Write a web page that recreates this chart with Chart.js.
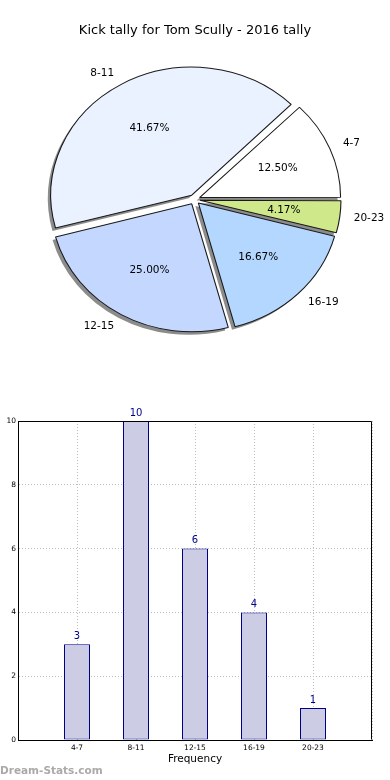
<!DOCTYPE html>
<html><head><meta charset="utf-8">
<script src="https://cdn.jsdelivr.net/npm/chart.js@4.4.1/dist/chart.umd.min.js"></script>
<style>
html,body{margin:0;padding:0;background:#fff;}
body{width:390px;height:780px;position:relative;overflow:hidden;font-family:"DejaVu Sans",sans-serif;}
#title{position:absolute;left:0;top:21px;width:390px;text-align:center;font-size:13px;color:#000;line-height:18px;z-index:2;}
#pieC{position:absolute;left:0;top:0;}
#barC{position:absolute;left:0;top:400px;}
#wm{position:absolute;left:0;top:763px;font:bold 10.5px "DejaVu Sans",sans-serif;color:#aaaaaa;line-height:14px;}
</style></head>
<body>
<div id="title">Kick tally for Tom Scully - 2016 tally</div>
<canvas id="pieC" width="389" height="399"></canvas>
<canvas id="barC" width="390" height="380"></canvas>
<div id="wm">Dream-Stats.com</div>
<script>
// ---- data ----
const categories = ['4-7', '8-11', '12-15', '16-19', '20-23'];
const counts = [3, 10, 6, 4, 1];
const pieColors = ['#ffffff', '#eaf1ff', '#c4d8ff', '#b3d7ff', '#cfe98a'];
const yTicks = [0, 2, 4, 6, 8, 10];

// ---- pie (clockwise from east in canvas => reverse matplotlib ccw order) ----
const pieLabels = categories.slice().reverse();
const pieValues = counts.slice().reverse();
const pieCols = pieColors.slice().reverse();
const total = counts.reduce((a, b) => a + b, 0);

const R = 128, SX = 141 / 128, OFFSET = 20, OFF_PX = OFFSET / 4;

const pieFx = {
  id: 'pieFx',
  beforeDatasetsDraw(chart) {
    const ctx = chart.ctx, meta = chart.getDatasetMeta(0);
    const cx = meta.data[0].x, cy = meta.data[0].y;
    ctx.save();
    ctx.translate(cx, cy); ctx.scale(SX, 1); ctx.translate(-cx, -cy);
    meta.data.forEach(el => {
      const circ = el.endAngle - el.startAngle;
      const fix = 1 - Math.sin(Math.min(Math.PI, circ));
      el.outerRadius = R - OFF_PX * fix;
    });
    meta.data.forEach(el => {
      const o = el.options;
      el.options = Object.assign({}, o, {backgroundColor: 'rgba(0,0,0,0.45)', borderColor: 'rgba(0,0,0,0)', borderWidth: 0});
      ctx.save(); ctx.translate(-3 / SX, 3); el.draw(ctx); ctx.restore();
      el.options = o;
    });
  },
  afterDatasetsDraw(chart) {
    const ctx = chart.ctx, meta = chart.getDatasetMeta(0);
    ctx.restore();
    ctx.save();
    ctx.fillStyle = '#000';
    ctx.font = '10.5px "DejaVu Sans"';
    ctx.textBaseline = 'middle';
    meta.data.forEach((el, i) => {
      const mid = (el.startAngle + el.endAngle) / 2;
      const c = Math.cos(mid), s = Math.sin(mid);
      const ox = el.x + SX * c * OFF_PX, oy = el.y + s * OFF_PX;
      const v = chart.data.datasets[0].data[i];
      ctx.textAlign = 'center';
      ctx.fillText((v / total * 100).toFixed(2) + '%', ox + SX * c * 0.6 * R, oy + s * 0.6 * R);
      ctx.textAlign = c >= 0 ? 'left' : 'right';
      ctx.fillText(chart.data.labels[i], ox + SX * c * 1.1 * R, oy + s * 1.1 * R);
    });
    ctx.restore();
  }
};

new Chart(document.getElementById('pieC'), {
  type: 'pie',
  data: {
    labels: pieLabels,
    datasets: [{
      data: pieValues,
      backgroundColor: pieCols,
      borderColor: '#1a1a1a',
      borderWidth: 1,
      offset: OFFSET,
      hoverOffset: 0,
      radius: R
    }]
  },
  options: {
    responsive: false,
    animation: false,
    events: [],
    rotation: 90,
    layout: {padding: 0},
    plugins: {legend: {display: false}, tooltip: {enabled: false}, title: {display: false}}
  },
  plugins: [pieFx]
});

// ---- bar ----
const barLabels = [''].concat(categories, ['']);
const barValues = [null].concat(counts, [null]);

const frame = {
  id: 'frame',
  afterDraw(chart) {
    const {ctx, chartArea: a} = chart;
    ctx.save();
    ctx.strokeStyle = '#000'; ctx.lineWidth = 1;
    ctx.beginPath();
    const l = Math.round(a.left) + 0.5, r = Math.round(a.right) - 0.5, t = Math.round(a.top) + 0.5, b = Math.round(a.bottom) - 0.5;
    ctx.moveTo(l, t); ctx.lineTo(r, t); ctx.lineTo(r, b);
    ctx.stroke();
    ctx.restore();
  }
};
const valueLabels = {
  id: 'valueLabels',
  afterDatasetsDraw(chart) {
    const ctx = chart.ctx, meta = chart.getDatasetMeta(0);
    ctx.save();
    ctx.fillStyle = '#00008b';
    ctx.font = '10px "DejaVu Sans"';
    ctx.textAlign = 'center'; ctx.textBaseline = 'middle';
    meta.data.forEach((el, i) => {
      const v = chart.data.datasets[0].data[i];
      if (v === null || v === undefined) return;
      ctx.fillText(String(v), el.x, el.y - 8);
    });
    ctx.restore();
  }
};

new Chart(document.getElementById('barC'), {
  type: 'bar',
  data: {
    labels: barLabels,
    datasets: [{
      data: barValues,
      backgroundColor: '#cccce5',
      borderColor: '#00008b',
      borderWidth: 1,
      borderSkipped: false,
      categoryPercentage: 1,
      barPercentage: 26 / 59
    }]
  },
  options: {
    responsive: false,
    animation: false,
    events: [],
    layout: {padding: {top: 21, right: 18, left: 0, bottom: 0}},
    plugins: {legend: {display: false}, tooltip: {enabled: false}},
    scales: {
      x: {
        type: 'category',
        offset: false,
        z: 1,
        grid: {color: '#bdbdbd', drawTicks: false, lineWidth: 1, offset: false},
        border: {display: true, color: '#000', width: 1, dash: [1, 2]},
        ticks: {font: {family: 'DejaVu Sans', size: 7.5}, color: '#000', padding: 4, maxRotation: 0, autoSkip: false},
        title: {display: true, text: 'Frequency', font: {family: 'DejaVu Sans', size: 10.5}, color: '#000', padding: {top: 0, bottom: 14}},
        afterFit(s) { s.height = 40; }
      },
      y: {
        min: yTicks[0],
        max: yTicks[yTicks.length - 1],
        afterBuildTicks(s) { s.ticks = yTicks.map(v => ({value: v})); },
        grid: {color: '#bdbdbd', drawTicks: false, lineWidth: 1},
        border: {display: true, color: '#000', width: 1, dash: [1, 2]},
        ticks: {font: {family: 'DejaVu Sans', size: 7.5}, color: '#000', padding: 2},
        afterFit(s) { s.width = 18; }
      }
    }
  },
  plugins: [frame, valueLabels]
});
</script>
</body></html>
